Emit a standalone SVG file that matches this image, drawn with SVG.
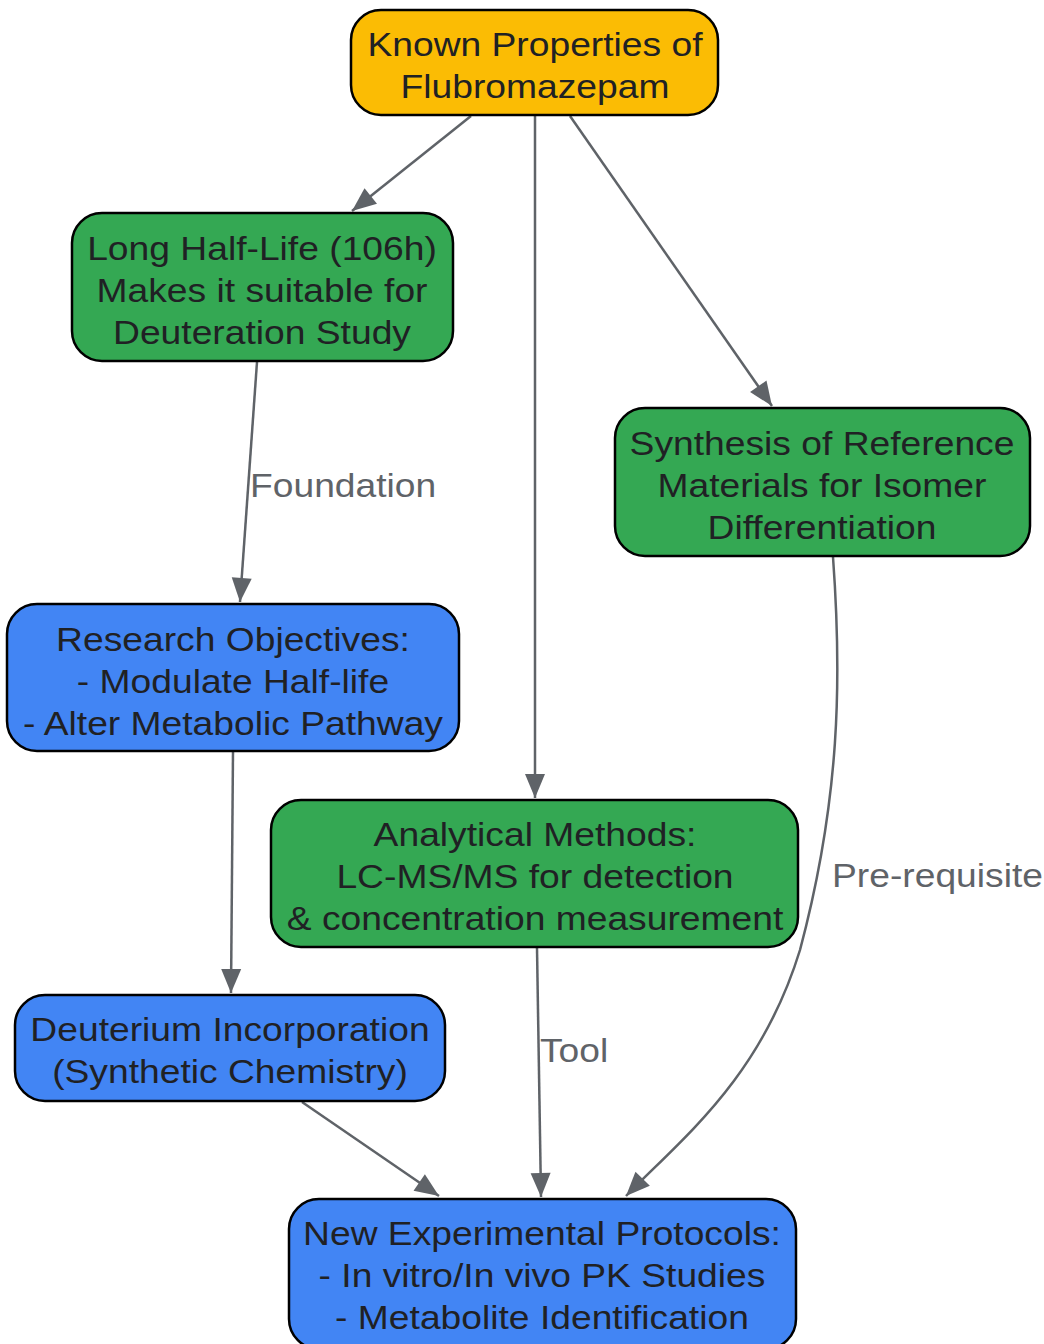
<svg xmlns="http://www.w3.org/2000/svg" width="1044" height="1344" viewBox="0 0 1044 1344">
<style>
.node rect{stroke:#000;stroke-width:2.5}
.node text{font-family:"Liberation Sans",Arial,sans-serif;font-size:34px;fill:#202124;text-anchor:middle}
.y rect{fill:#FBBC04}
.g rect{fill:#34A853}
.b rect{fill:#4285F4}
.edges path{fill:none;stroke:#5F6368;stroke-width:2.5}
.elabel{font-family:"Liberation Sans",Arial,sans-serif;font-size:34px;fill:#5F6368}
</style>
<defs>
<marker id="ah" viewBox="0 0 24 20" refX="24" refY="10" markerWidth="24" markerHeight="20" markerUnits="userSpaceOnUse" orient="auto" overflow="visible">
<path d="M0,0 L24,10 L0,20 z" fill="#5F6368"/>
</marker>
</defs>
<rect width="1044" height="1344" fill="#fff"/>
<g class="edges">
<path d="M471,116 L352,211" marker-end="url(#ah)"/>
<path d="M535,116 L535,798" marker-end="url(#ah)"/>
<path d="M570,116 L772,406" marker-end="url(#ah)"/>
<path d="M257,362 L240,602" marker-end="url(#ah)"/>
<path d="M233,752 L231,993" marker-end="url(#ah)"/>
<path d="M833,557 C842,680 840,800 800,950 C760,1080 680,1140 626,1196" marker-end="url(#ah)"/>
<path d="M537,948 L541,1197" marker-end="url(#ah)"/>
<path d="M302,1102 L439,1196" marker-end="url(#ah)"/>
<text class="elabel" transform="translate(250,0) scale(1.095,1) translate(-250,0)" x="250" y="497">Foundation</text>
<text class="elabel" transform="translate(832,0) scale(1.095,1) translate(-832,0)" x="832" y="887">Pre-requisite</text>
<text class="elabel" transform="translate(540,0) scale(1.095,1) translate(-540,0)" x="540" y="1062">Tool</text>
</g>
<g id="n1" class="node y"><rect x="351" y="10" width="367" height="105" rx="30"/><g transform="translate(535,0) scale(1.095,1) translate(-535,0)"><text x="535" y="56">Known Properties of</text><text x="535" y="98">Flubromazepam</text></g></g>
<g id="n2" class="node g"><rect x="72" y="213" width="381" height="148" rx="30"/><g transform="translate(262,0) scale(1.095,1) translate(-262,0)"><text x="262" y="260">Long Half-Life (106h)</text><text x="262" y="302">Makes it suitable for</text><text x="262" y="344">Deuteration Study</text></g></g>
<g id="n3" class="node g"><rect x="615" y="408" width="415" height="148" rx="30"/><g transform="translate(822,0) scale(1.095,1) translate(-822,0)"><text x="822" y="455">Synthesis of Reference</text><text x="822" y="497">Materials for Isomer</text><text x="822" y="539">Differentiation</text></g></g>
<g id="n4" class="node b"><rect x="7" y="604" width="452" height="147" rx="30"/><g transform="translate(233,0) scale(1.095,1) translate(-233,0)"><text x="233" y="651">Research Objectives:</text><text x="233" y="693">- Modulate Half-life</text><text x="233" y="735">- Alter Metabolic Pathway</text></g></g>
<g id="n5" class="node g"><rect x="271" y="800" width="527" height="147" rx="30"/><g transform="translate(535,0) scale(1.095,1) translate(-535,0)"><text x="535" y="846">Analytical Methods:</text><text x="535" y="888">LC-MS/MS for detection</text><text x="535" y="930">&amp; concentration measurement</text></g></g>
<g id="n6" class="node b"><rect x="15" y="995" width="430" height="106" rx="30"/><g transform="translate(230,0) scale(1.095,1) translate(-230,0)"><text x="230" y="1041">Deuterium Incorporation</text><text x="230" y="1083">(Synthetic Chemistry)</text></g></g>
<g id="n7" class="node b"><rect x="289" y="1199" width="507" height="150" rx="30"/><g transform="translate(542,0) scale(1.095,1) translate(-542,0)"><text x="542" y="1245">New Experimental Protocols:</text><text x="542" y="1287">- In vitro/In vivo PK Studies</text><text x="542" y="1329">- Metabolite Identification</text></g></g>
</svg>
